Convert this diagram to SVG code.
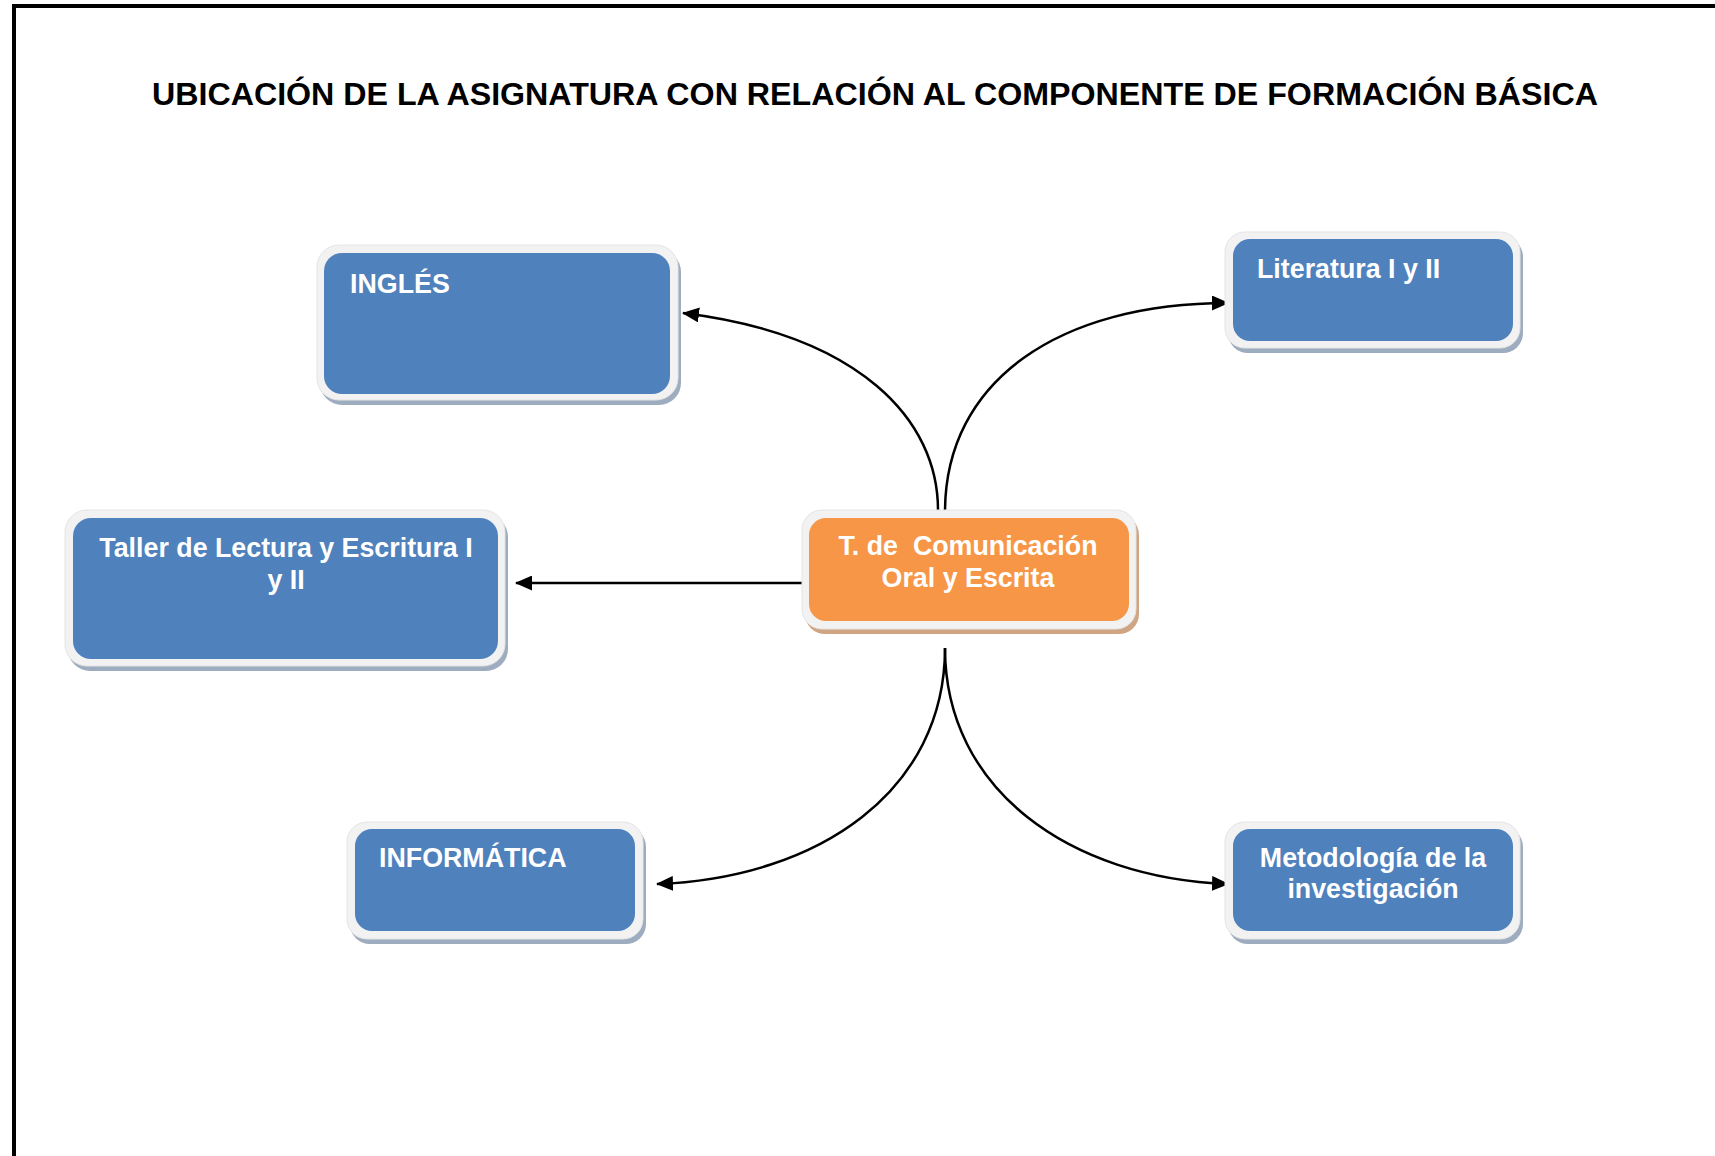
<svg xmlns="http://www.w3.org/2000/svg" width="1715" height="1156" viewBox="0 0 1715 1156">
<style>
.title{font-family:"Liberation Sans",Arial,sans-serif;font-weight:bold;font-size:32.2px;fill:#000}
.lbl{font-family:"Liberation Sans",Arial,sans-serif;font-weight:bold;font-size:26.8px;fill:#fff;white-space:pre}
.shb{fill:#9dacbf}
.sho{fill:#cfa584}
.frame{fill:#f2f2f2;stroke:#e4e4e4;stroke-width:1}
.blue{fill:#4f81bd}
.orange{fill:#f79646}
.conn{fill:none;stroke:#000;stroke-width:2.5}
</style>
<defs>
<marker id="arr" viewBox="0 0 17 15" refX="16" refY="7.5" markerWidth="17" markerHeight="15" markerUnits="userSpaceOnUse" orient="auto">
<path d="M0,0 L17,7.5 L0,15 Z" fill="#000"/>
</marker>
</defs>
<rect width="1715" height="1156" fill="#fff"/>
<g id="border">
<line x1="14" y1="4" x2="14" y2="1156" stroke="#000" stroke-width="4"/>
<line x1="12" y1="6" x2="1715" y2="6" stroke="#000" stroke-width="4"/>
</g>
<text class="title" x="875" y="105" text-anchor="middle">UBICACIÓN DE LA ASIGNATURA CON RELACIÓN AL COMPONENTE DE FORMACIÓN BÁSICA</text>
<g id="connectors">
<path class="conn" d="M938,510 C938,420 860,335 683,313" marker-end="url(#arr)"/>
<path class="conn" d="M945,512 C945,380 1060,303 1228,303" marker-end="url(#arr)"/>
<path class="conn" d="M804,583 L516,583" marker-end="url(#arr)"/>
<path class="conn" d="M945,648 C945,790 820,878 657,884" marker-end="url(#arr)"/>
<path class="conn" d="M945,648 C945,790 1070,878 1228,884" marker-end="url(#arr)"/>
</g>
<g id="ingles">
<rect class="shb" x="320" y="250" width="361" height="155" rx="22"/>
<rect class="frame" x="317" y="245" width="361" height="155" rx="22"/>
<rect class="blue" x="324" y="253" width="346" height="141" rx="18"/>
<text class="lbl" x="350" y="293">INGLÉS</text>
</g>
<g id="literatura">
<rect class="shb" x="1228" y="237" width="295" height="116" rx="20"/>
<rect class="frame" x="1225" y="232" width="295" height="116" rx="20"/>
<rect class="blue" x="1233" y="239" width="280" height="102" rx="17"/>
<text class="lbl" x="1257" y="278">Literatura I y II</text>
</g>
<g id="taller">
<rect class="shb" x="68" y="515" width="440" height="156" rx="22"/>
<rect class="frame" x="65" y="510" width="440" height="156" rx="22"/>
<rect class="blue" x="73" y="518" width="425" height="141" rx="18"/>
<text class="lbl" x="286" y="557" text-anchor="middle">Taller de Lectura y Escritura I</text>
<text class="lbl" x="286" y="589" text-anchor="middle">y II</text>
</g>
<g id="central">
<rect class="sho" x="805" y="515" width="334" height="119" rx="20"/>
<rect class="frame" x="802" y="510" width="334" height="119" rx="20"/>
<rect class="orange" x="809" y="518" width="320" height="103" rx="17"/>
<text class="lbl" x="968" y="555" text-anchor="middle">T. de  Comunicación</text>
<text class="lbl" x="968" y="587" text-anchor="middle">Oral y Escrita</text>
</g>
<g id="informatica">
<rect class="shb" x="350" y="827" width="296" height="117" rx="20"/>
<rect class="frame" x="347" y="822" width="296" height="117" rx="20"/>
<rect class="blue" x="355" y="829" width="280" height="102" rx="17"/>
<text class="lbl" x="379" y="867">INFORMÁTICA</text>
</g>
<g id="metodologia">
<rect class="shb" x="1228" y="827" width="295" height="117" rx="20"/>
<rect class="frame" x="1225" y="822" width="295" height="117" rx="20"/>
<rect class="blue" x="1233" y="829" width="280" height="102" rx="17"/>
<text class="lbl" x="1373" y="867" text-anchor="middle">Metodología de la</text>
<text class="lbl" x="1373" y="898" text-anchor="middle">investigación</text>
</g>
</svg>
